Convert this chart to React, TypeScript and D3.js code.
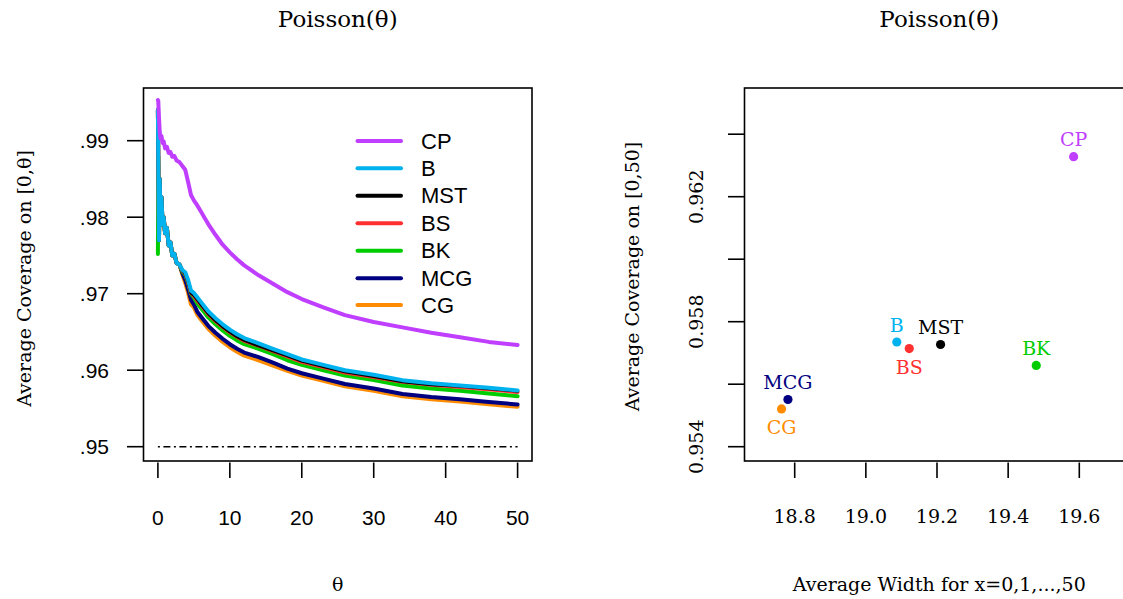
import React from "react";
import * as d3 from "d3";

// ---------- Left panel data ----------
const theta = [0, 0.05, 0.15, 0.25, 0.35, 0.5, 0.65, 0.8, 1.0, 1.25, 1.5, 1.75, 2.0, 2.3, 2.6, 3.0, 3.4, 3.8, 4.2, 4.6, 5.0, 5.5, 6.0, 6.5, 7.0, 8, 9, 10, 11, 12, 14, 16, 18, 20, 23, 26, 30, 34, 38, 42, 46, 50];

const covCP = [0.9953, 0.9952, 0.993, 0.9912, 0.9903, 0.9906, 0.9897, 0.9899, 0.989, 0.9892, 0.9884, 0.9885, 0.9879, 0.988, 0.9874, 0.9872, 0.9867, 0.9862, 0.9846, 0.9829, 0.9822, 0.9815, 0.9807, 0.9799, 0.9791, 0.9777, 0.9764, 0.9754, 0.9745, 0.9737, 0.9724, 0.9713, 0.9702, 0.9693, 0.9682, 0.9672, 0.9663, 0.9656, 0.9649, 0.9643, 0.9637, 0.96328];
const covB = [0.994, 0.988, 0.977, 0.985, 0.98, 0.9826, 0.979, 0.98, 0.9779, 0.9786, 0.9763, 0.9767, 0.975, 0.9752, 0.974, 0.9738, 0.9731, 0.9728, 0.9718, 0.9704, 0.9701, 0.9695, 0.9689, 0.9683, 0.9677, 0.9668, 0.966, 0.9653, 0.9647, 0.9642, 0.9635, 0.9628, 0.9621, 0.9614, 0.9607, 0.96, 0.9594, 0.9587, 0.9583, 0.958, 0.9577, 0.95735];
const covMST = [0.994, 0.988, 0.977, 0.985, 0.98, 0.9826, 0.979, 0.98, 0.9779, 0.9786, 0.9763, 0.9767, 0.975, 0.9752, 0.974, 0.9738, 0.973, 0.9726, 0.9715, 0.9701, 0.9698, 0.9692, 0.9686, 0.968, 0.9674, 0.9665, 0.9657, 0.965, 0.9644, 0.9639, 0.9632, 0.96255, 0.9619, 0.9612, 0.9605, 0.9598, 0.9592, 0.9585, 0.9581, 0.9579, 0.9576, 0.95727];
const covBS = [0.994, 0.988, 0.977, 0.985, 0.98, 0.9826, 0.979, 0.98, 0.9779, 0.9786, 0.9763, 0.9767, 0.975, 0.9752, 0.974, 0.9738, 0.973, 0.9726, 0.9715, 0.9701, 0.9697, 0.9691, 0.96855, 0.96795, 0.96735, 0.96645, 0.96565, 0.96495, 0.96435, 0.96385, 0.9632, 0.9625, 0.9618, 0.9611, 0.9604, 0.9597, 0.9591, 0.9585, 0.9581, 0.9578, 0.9575, 0.95714];
const covBK = [0.9752, 0.988, 0.977, 0.985, 0.98, 0.9826, 0.979, 0.98, 0.9779, 0.9786, 0.9763, 0.9767, 0.975, 0.9752, 0.974, 0.9738, 0.9729, 0.9725, 0.9714, 0.97, 0.9695, 0.9687, 0.9681, 0.9675, 0.9669, 0.966, 0.9652, 0.9645, 0.9639, 0.9634, 0.9628, 0.9621, 0.9613, 0.9607, 0.96, 0.9593, 0.9587, 0.958, 0.9576, 0.9573, 0.95695, 0.9566];
const covMCG = [0.994, 0.988, 0.977, 0.985, 0.98, 0.9826, 0.979, 0.98, 0.9779, 0.9786, 0.9763, 0.9767, 0.975, 0.9752, 0.974, 0.9738, 0.9727, 0.9718, 0.9706, 0.9692, 0.9686, 0.9676, 0.967, 0.9664, 0.9658, 0.9649, 0.9641, 0.9634, 0.9628, 0.9623, 0.9617, 0.961, 0.9602, 0.9596, 0.9589, 0.9582, 0.9576, 0.9569, 0.9565, 0.9562, 0.95585, 0.95551];
const covCG = [0.994, 0.988, 0.977, 0.985, 0.98, 0.9826, 0.979, 0.98, 0.9779, 0.9786, 0.9763, 0.9767, 0.975, 0.9752, 0.974, 0.9738, 0.9725, 0.9714, 0.9701, 0.9686, 0.9682, 0.9672, 0.9666, 0.966, 0.9654, 0.9645, 0.9637, 0.963, 0.9624, 0.9619, 0.9613, 0.9606, 0.9599, 0.9593, 0.9586, 0.9579, 0.9573, 0.9566, 0.9562, 0.9559, 0.95555, 0.95521];

const leftXTicks = [0, 10, 20, 30, 40, 50];
const leftYTicks = [0.95, 0.96, 0.97, 0.98, 0.99];
const leftYTickLabels = [".95", ".96", ".97", ".98", ".99"];

// ---------- Right panel data ----------
const methods = ["CP", "B", "MST", "BS", "BK", "MCG", "CG"];
const colors = ["#BF3EFF", "#00B2EE", "#000000", "#FF3030", "#00CD00", "#000080", "#FF8C00"];
const avgWidth = [19.584, 19.087, 19.21, 19.122, 19.479, 18.781, 18.763];
const avgCoverage = [0.96328, 0.95735, 0.95727, 0.95714, 0.9566, 0.95551, 0.95521];
const labelAbove = [true, true, true, false, true, true, false];

const rightXTicks = [18.8, 19.0, 19.2, 19.4, 19.6];
const rightYTicks = [0.954, 0.956, 0.958, 0.96, 0.962, 0.964];
const rightYLabelled = [0.954, 0.958, 0.962];

const series = [covCP, covB, covMST, covBS, covBK, covMCG, covCG];

const SERIF = "'DejaVu Serif', serif";
const SANS = "'Liberation Sans', Arial, sans-serif";

export default function App() {
  const L = { x0: 143.5, x1: 532, y0: 88, y1: 461 };
  const R = { x0: 744.5, x1: 1134, y0: 88, y1: 461 };

  const lx = d3.scaleLinear().domain([0, 50]).range([157.9, 517.6]);
  const ly = d3.scaleLinear().domain([0.95, 0.99]).range([446.7, 140.7]);

  const rx = d3.scaleLinear().domain([18.8, 19.6]).range([794.7, 1079.3]);
  const ry = d3.scaleLinear().domain([0.954, 0.962]).range([446.7, 196.7]);

  const line = d3
    .line<number>()
    .x((_, i) => lx(theta[i]))
    .y((d) => ly(d));

  const drawOrder = [6, 5, 4, 3, 2, 1, 0];
  const legendY = [141, 168.3, 195.7, 223.3, 250.7, 278.3, 305];

  return (
    <svg
      width={1123}
      height={599}
      style={{ position: "absolute", left: 0, top: 0, background: "#fff" }}
    >
      <rect x={0} y={0} width={1123} height={599} fill="#fff" />

      {/* ===== Left panel ===== */}
      <text x={(L.x0 + L.x1) / 2} y={27} textAnchor="middle" fontFamily={SERIF} fontSize={23}>
        Poisson(θ)
      </text>
      <clipPath id="clipL">
        <rect x={L.x0} y={L.y0} width={L.x1 - L.x0} height={L.y1 - L.y0} />
      </clipPath>
      <line
        x1={lx(0)}
        x2={lx(50)}
        y1={ly(0.95)}
        y2={ly(0.95)}
        stroke="#000"
        strokeWidth={1.5}
        strokeDasharray="2,3.5,7,3.5"
      />
      <g clipPath="url(#clipL)">
        {drawOrder.map((i) => (
          <path
            key={methods[i]}
            d={line(series[i]) || ""}
            fill="none"
            stroke={colors[i]}
            strokeWidth={i === 2 ? 3.2 : 4}
            strokeLinejoin="round"
            strokeLinecap="round"
          />
        ))}
      </g>
      <rect
        x={L.x0}
        y={L.y0}
        width={L.x1 - L.x0}
        height={L.y1 - L.y0}
        fill="none"
        stroke="#000"
        strokeWidth={1.6}
      />
      {leftXTicks.map((t) => (
        <g key={"lxt" + t}>
          <line x1={lx(t)} x2={lx(t)} y1={L.y1 + 1.5} y2={478} stroke="#000" strokeWidth={1.6} />
          <text x={lx(t)} y={517} textAnchor="middle" dominantBaseline="central" fontFamily={SANS} fontSize={21}>
            {t}
          </text>
        </g>
      ))}
      {leftYTicks.map((t, i) => (
        <g key={"lyt" + t}>
          <line x1={127} x2={L.x0} y1={ly(t)} y2={ly(t)} stroke="#000" strokeWidth={1.6} />
          <text x={109} y={ly(t)} textAnchor="end" dominantBaseline="central" fontFamily={SANS} fontSize={21}>
            {leftYTickLabels[i]}
          </text>
        </g>
      ))}
      <text x={(L.x0 + L.x1) / 2} y={591} textAnchor="middle" fontFamily={SERIF} fontSize={19}>
        θ
      </text>
      <text
        transform={`translate(24, ${(L.y0 + L.y1) / 2 + 4}) rotate(-90)`}
        textAnchor="middle"
        dominantBaseline="central"
        fontFamily={SERIF}
        fontSize={19}
      >
        Average Coverage on [0,θ]
      </text>
      {methods.map((m, i) => (
        <g key={"leg" + m}>
          <line x1={357.5} x2={401} y1={legendY[i]} y2={legendY[i]} stroke={colors[i]} strokeWidth={4} strokeLinecap="round" />
          <text x={421} y={legendY[i]} dominantBaseline="central" fontFamily={SANS} fontSize={22}>
            {m}
          </text>
        </g>
      ))}

      {/* ===== Right panel ===== */}
      <text x={(R.x0 + R.x1) / 2} y={27} textAnchor="middle" fontFamily={SERIF} fontSize={23}>
        Poisson(θ)
      </text>
      <rect
        x={R.x0}
        y={R.y0}
        width={R.x1 - R.x0}
        height={R.y1 - R.y0}
        fill="none"
        stroke="#000"
        strokeWidth={1.6}
      />
      {rightXTicks.map((t) => (
        <g key={"rxt" + t}>
          <line x1={rx(t)} x2={rx(t)} y1={R.y1 + 1.5} y2={478} stroke="#000" strokeWidth={1.6} />
          <text x={rx(t)} y={516} textAnchor="middle" dominantBaseline="central" fontFamily={SERIF} fontSize={19}>
            {t.toFixed(1)}
          </text>
        </g>
      ))}
      {rightYTicks.map((t) => (
        <g key={"ryt" + t}>
          <line x1={728} x2={R.x0} y1={ry(t)} y2={ry(t)} stroke="#000" strokeWidth={1.6} />
          {rightYLabelled.some((v) => Math.abs(v - t) < 1e-9) && (
            <text
              transform={`translate(696, ${ry(t)}) rotate(-90)`}
              textAnchor="middle"
              dominantBaseline="central"
              fontFamily={SERIF}
              fontSize={19}
            >
              {t.toFixed(3)}
            </text>
          )}
        </g>
      ))}
      <text x={(R.x0 + R.x1) / 2} y={591} textAnchor="middle" fontFamily={SERIF} fontSize={19}>
        Average Width for x=0,1,...,50
      </text>
      <text
        transform={`translate(632, ${(R.y0 + R.y1) / 2 + 2}) rotate(-90)`}
        textAnchor="middle"
        dominantBaseline="central"
        fontFamily={SERIF}
        fontSize={19}
      >
        Average Coverage on [0,50]
      </text>
      {methods.map((m, i) => (
        <g key={"pt" + m}>
          <circle cx={rx(avgWidth[i])} cy={ry(avgCoverage[i])} r={4.6} fill={colors[i]} />
          <text
            x={rx(avgWidth[i])}
            y={ry(avgCoverage[i]) + (labelAbove[i] ? -10.5 : 25.5)}
            textAnchor="middle"
            fontFamily={SERIF}
            fontSize={19}
            fill={colors[i]}
          >
            {m}
          </text>
        </g>
      ))}
    </svg>
  );
}
